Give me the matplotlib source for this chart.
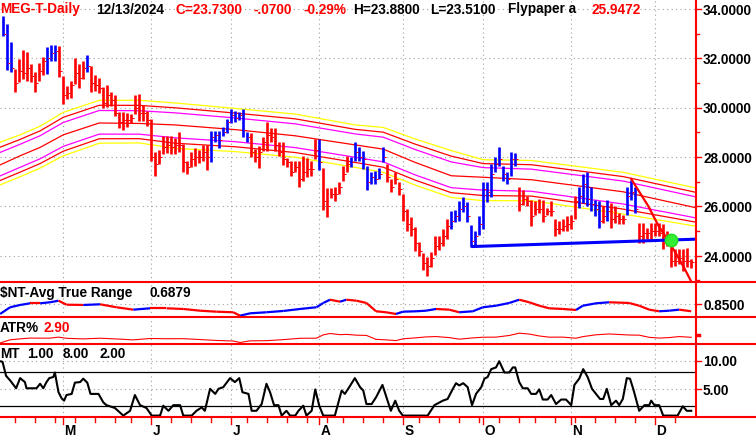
import numpy as np
import pandas as pd
import matplotlib
matplotlib.use("Agg")
import matplotlib.pyplot as plt
from matplotlib.collections import LineCollection
from matplotlib.lines import Line2D

plt.rcParams['font.family'] = ['Liberation Sans', 'DejaVu Sans']

# ---- data ----
tsx_holidays = ['2024-05-20', '2024-07-01', '2024-08-05', '2024-09-02', '2024-10-14']
dates = pd.bdate_range('2024-04-10', '2024-12-13', freq='C', holidays=tsx_holidays)

highs = [33.73, 33.39, 32.65, 31.57, 31.97, 32.34, 32.24, 31.77, 31.43, 31.80,
         32.04, 32.45, 32.54, 32.54, 32.49, 31.30, 30.89, 31.09, 32.00, 31.77,
         31.90, 32.14, 31.70, 31.32, 31.19, 30.82, 30.92, 30.65, 30.51, 29.81,
         29.81, 29.78, 29.74, 30.51, 30.55, 30.11, 29.88, 29.54, 28.22, 28.30,
         28.86, 28.86, 28.84, 28.76, 29.03, 28.53, 27.85, 28.19, 28.35, 28.28,
         28.50, 28.50, 29.07, 29.07, 29.07, 29.20, 29.54, 29.95, 29.88, 29.84,
         29.95, 29.00, 28.97, 28.32, 28.46, 28.80, 29.43, 29.16, 29.16, 28.62,
         28.62, 27.95, 27.85, 27.85, 27.85, 28.05, 27.95, 27.85, 28.73, 28.73,
         27.54, 26.73, 26.73, 26.77, 27.00, 27.65, 28.05, 27.99, 28.59, 28.39,
         28.26, 27.65, 27.38, 27.45, 27.54, 28.39, 27.72, 27.11, 27.38, 27.00,
         26.50, 25.89, 25.55, 25.15, 24.57, 24.11, 23.93, 24.14, 24.78, 24.78,
         25.08, 25.49, 25.82, 25.86, 26.23, 26.36, 26.19, 25.26, 24.99, 25.62,
         27.00, 27.00, 27.72, 27.99, 28.39, 27.65, 27.38, 28.19, 28.16, 26.80,
         26.67, 26.40, 26.27, 26.20, 26.29, 26.27, 25.93, 26.20, 25.47, 25.40,
         25.47, 25.60, 25.67, 26.40, 26.80, 27.33, 27.40, 26.80, 26.27, 26.20,
         26.00, 26.27, 26.13, 26.00, 25.73, 25.67, 26.80, 27.07, 26.80, 25.33,
         25.33, 25.13, 25.33, 25.33, 25.33, 25.27, 25.00, 24.53, 24.27, 24.27,
         24.27, 24.33, 23.88]
lows = [32.92, 31.54, 31.43, 30.65, 31.03, 31.16, 31.09, 31.05, 30.65, 31.09,
        31.32, 31.36, 31.91, 31.91, 31.23, 30.15, 30.35, 30.38, 30.96, 30.78,
        31.16, 31.43, 30.65, 30.69, 30.59, 29.97, 30.01, 30.08, 29.65, 29.16,
        29.11, 29.20, 29.38, 29.74, 29.47, 29.47, 29.27, 27.85, 27.24, 27.72,
        28.12, 28.18, 28.12, 28.14, 28.19, 27.38, 27.31, 27.58, 27.62, 27.76,
        27.82, 27.49, 27.81, 28.62, 28.35, 28.84, 28.96, 29.38, 29.41, 29.51,
        28.82, 28.62, 27.99, 27.78, 27.54, 28.26, 28.26, 28.62, 28.26, 28.05,
        27.69, 27.58, 27.22, 27.38, 26.77, 27.04, 27.18, 27.24, 27.92, 27.49,
        25.86, 25.55, 26.32, 26.23, 26.50, 27.04, 27.38, 27.58, 27.85, 27.85,
        27.51, 26.68, 26.91, 26.91, 27.11, 27.78, 26.97, 26.57, 26.91, 26.46,
        25.42, 25.01, 24.78, 24.20, 23.97, 23.43, 23.19, 23.53, 24.03, 24.24,
        24.41, 24.68, 25.08, 25.38, 25.42, 25.76, 25.35, 24.34, 24.43, 24.84,
        25.08, 26.16, 26.36, 27.38, 27.65, 27.04, 26.91, 27.24, 27.65, 25.80,
        26.07, 26.00, 25.20, 25.67, 25.73, 25.36, 25.67, 25.60, 24.80, 24.87,
        25.00, 25.00, 25.07, 25.47, 25.93, 26.13, 26.00, 25.80, 25.60, 25.13,
        25.33, 25.40, 25.13, 25.33, 25.27, 25.27, 25.67, 26.27, 25.73, 24.53,
        24.53, 24.67, 24.67, 24.80, 24.80, 24.27, 24.40, 23.53, 23.60, 23.67,
        23.40, 23.53, 23.51]
closes = [33.0, 31.8, 31.6, 31.0, 31.5, 31.4, 31.6, 31.3, 31.0, 31.5,
          31.9, 32.0, 32.2, 32.3, 31.5, 30.5, 30.6, 30.9, 31.4, 31.2,
          31.6, 31.7, 31.0, 30.9, 30.8, 30.2, 30.5, 30.3, 29.8, 29.4,
          29.5, 29.5, 29.6, 30.0, 29.8, 29.8, 29.5, 28.0, 27.7, 28.0,
          28.4, 28.5, 28.4, 28.5, 28.5, 27.8, 27.6, 27.9, 28.0, 28.0,
          28.2, 28.0, 28.8, 28.9, 28.7, 29.0, 29.4, 29.7, 29.6, 29.7,
          29.1, 28.8, 28.2, 28.0, 28.2, 28.6, 28.9, 28.8, 28.5, 28.2,
          27.9, 27.8, 27.4, 27.6, 27.1, 27.4, 27.5, 27.5, 28.3, 27.8,
          26.2, 26.0, 26.5, 26.5, 26.8, 27.3, 27.7, 27.8, 28.2, 28.0,
          27.9, 27.0, 27.2, 27.1, 27.3, 28.0, 27.2, 26.8, 27.1, 26.7,
          25.8, 25.3, 25.1, 24.5, 24.2, 23.7, 23.6, 23.9, 24.4, 24.5,
          24.8, 25.2, 25.4, 25.6, 25.9, 26.0, 25.6, 24.6, 24.8, 25.3,
          26.7, 26.6, 27.3, 27.7, 27.9, 27.3, 27.1, 27.9, 27.9, 26.1,
          26.3, 26.2, 25.6, 25.9, 25.9, 25.6, 25.8, 25.8, 25.1, 25.1,
          25.2, 25.3, 25.4, 26.2, 26.4, 26.9, 26.3, 26.1, 25.9, 25.4,
          25.6, 25.8, 25.5, 25.6, 25.5, 25.5, 26.4, 26.6, 25.9, 24.8,
          24.9, 24.9, 25.0, 25.0, 24.9, 24.5, 24.6, 23.8, 23.8, 23.9,
          23.8, 23.8, 23.73]
# b = blue (up state), r = red (down state)
trend = ("bbb" + "r" * 8 + "bbb" + "r" * 7 + "b" + "r" * 30 + "b" * 10 + "r" * 17 + "b"
         + "r" * 7 + "b" * 9 + "r" * 16 + "b" * 17 + "r" * 15 + "b" * 6 + "r" + "b"
         + "r" * 4 + "b" * 3 + "r" * 14)

# flypaper bands (centre, outer upper, outer lower)
band_idx = [-0.8, 4.2, 9.2, 15, 24, 34, 43, 58, 73, 88, 95, 103, 112, 120, 132, 155, 173]
band_mid = [27.68, 28.05, 28.39, 28.90, 29.38, 29.36, 29.30, 29.11, 28.86, 28.49, 28.32,
            27.78, 27.24, 27.18, 27.08, 26.59, 25.95]
band_top = [28.60, 28.90, 29.25, 29.81, 30.30, 30.30, 30.19, 29.97, 29.74, 29.30, 29.20,
            28.73, 28.26, 27.89, 27.86, 27.38, 26.75]
band_bot = [26.87, 27.20, 27.55, 28.05, 28.56, 28.57, 28.35, 28.22, 27.99, 27.58, 27.38,
            26.86, 26.36, 26.23, 26.23, 25.69, 25.20]

support_idx = [117, 173.2]
support_val = [24.37, 24.67]
tline_idx = [157, 161.2, 163.8, 166.3, 168.75, 170.4, 172.1, 173.2]
tline_val = [27.11, 26.03, 25.22, 24.60, 23.93, 23.46, 22.92, 22.55]
signal_idx, signal_val = 167, 24.65

atr_idx = [-0.8, 1.7, 4.2, 6.7, 9.2, 11.7, 13.8, 15.8, 20.0, 24.2, 28.3, 32.5, 36.7, 40.8,
           45.0, 49.2, 53.3, 57.5, 59.2, 61.7, 65.8, 70.0, 74.2, 78.3, 80.0, 81.7, 84.2,
           85.8, 88.3, 90.8, 93.2, 95.7, 98.2, 99.9, 103.2, 105.7, 108.2, 111.5, 114.0,
           117.4, 119.9, 123.2, 126.5, 129.0, 131.5, 134.0, 136.5, 139.9, 143.2, 144.9,
           148.2, 151.5, 156.5, 159.0, 161.5, 164.0, 166.5, 169.0, 172.0]
atr_val = [0.628, 0.777, 0.828, 0.865, 0.865, 0.888, 0.923, 0.834, 0.828, 0.843, 0.777,
           0.724, 0.754, 0.754, 0.739, 0.701, 0.679, 0.666, 0.590, 0.643, 0.666, 0.695,
           0.739, 0.777, 0.872, 0.945, 0.901, 0.945, 0.923, 0.872, 0.688, 0.666, 0.628,
           0.679, 0.688, 0.701, 0.739, 0.724, 0.666, 0.688, 0.777, 0.812, 0.872, 0.945,
           0.888, 0.812, 0.754, 0.739, 0.717, 0.812, 0.865, 0.888, 0.872, 0.812, 0.724,
           0.688, 0.701, 0.724, 0.688]

mt_idx = [-0.8, -0.2, 0.7, 1.7, 3.2, 4.2, 5.4, 5.8, 8.3, 9.2, 10.0, 10.8, 11.5, 12.5, 12.9,
          13.8, 14.6, 15.2, 15.8, 17.1, 17.9, 19.2, 20.0, 21.0, 21.8, 23.8, 25.0, 25.8,
          27.9, 30.0, 31.7, 32.9, 34.2, 35.8, 37.1, 39.2, 40.0, 41.3, 42.5, 44.2, 45.0,
          47.1, 48.3, 49.6, 50.4, 51.7, 53.0, 53.8, 55.0, 56.7, 57.9, 59.0, 59.8, 61.3,
          62.1, 63.3, 64.6, 65.8, 66.7, 67.7, 68.8, 69.6, 70.8, 71.7, 73.0, 73.8, 75.0,
          75.8, 77.1, 78.0, 79.0, 80.0, 82.9, 84.6, 85.4, 86.5, 87.9, 89.2, 90.0, 90.8,
          92.1, 93.2, 94.8, 96.9, 98.0, 99.0, 99.9, 106.1, 107.8, 109.9, 111.1, 112.4,
          113.2, 114.0, 115.0, 116.1, 117.2, 118.2, 119.5, 120.3, 121.1, 122.0, 123.2,
          124.0, 125.3, 126.5, 127.4, 128.0, 129.0, 129.9, 131.1, 132.0, 133.2, 134.0,
          134.9, 136.1, 137.0, 138.2, 139.5, 140.7, 142.0, 142.8, 144.0, 145.0, 146.1,
          147.2, 148.2, 149.2, 150.0, 150.9, 152.0, 153.2, 154.0, 154.9, 155.9, 156.7,
          157.5, 159.0, 160.3, 161.5, 162.0, 162.8, 164.0, 165.0, 168.6, 169.9, 170.9,
          172.0]
mt_val = [9.9, 9.8, 7.3, 6.5, 5.1, 6.9, 6.2, 5.1, 5.1, 5.9, 5.1, 6.2, 6.9, 7.1, 7.9,
          4.4, 3.3, 2.9, 3.9, 4.1, 6.1, 6.2, 6.8, 6.1, 4.1, 4.1, 2.6, 2.1,
          1.6, 0.25, 1.1, 3.9, 2.1, 1.6, 0.25, 0.25, 2.0, 1.1, 2.1, 2.1, 0.25,
          0.25, 1.1, 1.7, 1.1, 5.0, 4.1, 5.0, 5.3, 6.9, 6.2, 6.9, 4.4, 4.1,
          1.1, 1.1, 2.3, 5.9, 4.4, 2.1, 2.1, 0.25, 1.1, 0.25, 0.25, 1.1, 2.0,
          0.25, 1.1, 4.9, 2.0, 0.25, 0.25, 4.7, 4.1, 5.3, 6.9, 5.3, 4.7, 2.3,
          2.3, 3.5, 5.7, 1.1, 2.9, 1.1, 0.25, 0.25, 2.1, 2.9, 3.2, 5.0,
          6.0, 5.6, 6.0, 5.3, 2.1, 4.1, 5.3, 6.8, 7.1, 8.5, 8.8,
          9.9, 7.9, 7.9, 8.8, 8.8, 6.2, 5.1, 5.1, 4.1, 4.1, 4.9,
          3.1, 3.1, 3.9, 2.3, 3.1, 3.1, 2.1, 5.7, 6.8, 8.5, 7.1,
          5.0, 4.1, 3.2, 3.2, 5.0, 2.1, 2.9, 2.1, 3.2, 6.9, 6.8,
          5.0, 1.1, 2.1, 2.1, 2.9, 2.1, 2.1, 0.25, 0.25, 1.9, 1.1,
          1.1]

# ---- layout in pixels ----
W, H = 756, 439
PLOT_W = 696
X0, X1 = -0.825, 173.2
RED, BLUE = '#ff0000', '#0000ff'
GRID = dict(color='#a0a0a0', lw=0.8, ls=(0, (1, 3)))
FONT = dict(fontsize=9.8, fontweight='bold')

fig = plt.figure(figsize=(W / 100, H / 100), dpi=100)
fig.patch.set_facecolor('white')


def fx(px):
    return px / W


def fy(py):
    return 1 - py / H


def xpix(i):
    return (i - X0) / (X1 - X0) * PLOT_W


def panel(y0, y1, ylim):
    ax = fig.add_axes([0, fy(y1), fx(PLOT_W), (y1 - y0) / H])
    ax.set_xlim(X0, X1)
    ax.set_ylim(*ylim)
    ax.axis('off')
    return ax


def txt(px, py, s, color='black', ha='left'):
    fig.text(fx(px), fy(py), s, color=color, ha=ha, va='baseline', **FONT)


def pline(xs, ys, **kw):
    fig.add_artist(Line2D([fx(x) for x in xs], [fy(y) for y in ys], **kw))


idx = np.arange(len(dates))
months = dates.to_period('M')
month_starts = [i for i in idx[1:] if months[i] != months[i - 1]]
week_starts = [i for i in idx[1:] if dates[i].weekday() < dates[i - 1].weekday()]

ax_p = panel(0, 283, (22.934, 34.405))
ax_a = panel(283, 318, (0.561, 1.338))
ax_r = panel(318, 345, (1.725, 6.46))
ax_m = panel(345, 418, (0.0, 12.96))

for ax in (ax_p, ax_a, ax_r, ax_m):
    for m in month_starts:
        ax.axvline(m, **GRID)
for v in range(24, 35, 2):
    ax_p.axhline(v, **GRID)
ax_a.axhline(0.85, **GRID)
for v in (5, 10):
    ax_m.axhline(v, **GRID)

# flypaper bands
mid = np.array(band_mid)
up = np.array(band_top) - mid
dn = mid - np.array(band_bot)
band_lines = [(mid + up, '#ffff00'), (mid + 0.78 * up, RED), (mid + 0.55 * up, '#ff00ff'),
              (mid, RED), (mid - 0.55 * dn, '#ff00ff'), (mid - 0.78 * dn, RED),
              (mid - dn, '#ffff00')]
for vals, c in band_lines:
    ax_p.plot(band_idx, vals, color=c, lw=0.9)

# price bars, close tick always red
bar_colors = [BLUE if t == 'b' else RED for t in trend]
ax_p.vlines(idx, lows, highs, colors=bar_colors, lw=1.9, snap=True)
ax_p.hlines(closes, idx + 0.3, idx + 0.75, colors=RED, lw=0.72, snap=True)

ax_p.plot(support_idx, support_val, color=BLUE, lw=2.2, solid_capstyle='butt')
ax_p.plot(tline_idx, tline_val, color=RED, lw=1.6)
ax_p.plot(signal_idx, signal_val, 'o', ms=9, mfc='#33ee33', mec='#22dd22')

# ATR with up/down colouring
ax_pts = np.column_stack([atr_idx, atr_val])
segs = np.stack([ax_pts[:-1], ax_pts[1:]], axis=1)
seg_colors = [BLUE if b > a else RED for a, b in zip(atr_val[:-1], atr_val[1:])]
ax_a.add_collection(LineCollection(segs, colors=seg_colors, lw=1.6))

# ATR% = ATR / close
close_at = np.array(closes)[np.clip(np.round(atr_idx).astype(int), 0, len(closes) - 1)]
atr_pct = np.array(atr_val) / close_at * 100
ax_r.plot(atr_idx, atr_pct, color=RED, lw=0.8)

# MT
ax_m.axhline(8, color='black', lw=0.9)
ax_m.axhline(2, color='black', lw=0.9)
ax_m.plot(mt_idx, mt_val, color='black', lw=1.5)

# frame lines
for y in (283, 318, 345, 418):
    pline([0, W], [y, y], color=RED, lw=1.5)
pline([PLOT_W, PLOT_W], [0, 418], color=RED, lw=1.5)

# right axis ticks and labels
for ax, major, minor, fmt in ((ax_p, range(24, 35, 2), range(23, 34, 2), '{:.4f}'),
                              (ax_a, [0.85], [], '{:.4f}'),
                              (ax_m, [5, 10], [], '{:.2f}')):
    for v in major:
        py = H - ax.transData.transform((0, v))[1]
        pline([PLOT_W, PLOT_W + 5], [py, py], color=RED, lw=1.0)
        txt(PLOT_W + 7, py + 4.8, fmt.format(v))
    for v in minor:
        py = H - ax.transData.transform((0, v))[1]
        pline([PLOT_W, PLOT_W + 3], [py, py], color=RED, lw=1.0)
pline([PLOT_W + 1, PLOT_W + 3], [335.5, 335.5], color=RED, lw=2.5)

# bottom ticks and month letters
for w in week_starts:
    if w not in month_starts:
        pline([xpix(w)] * 2, [418, 423], color=RED, lw=1.0)
for m in month_starts:
    pline([xpix(m)] * 2, [418, 425], color=RED, lw=1.0)
    txt(xpix(m) + 1, 435, dates[m].strftime('%B')[0])

# headers
for px, s, c in ((0, 'MEG-T-Daily', RED), (96, '12/13/2024', 'black'),
                 (176, 'C=23.7300', RED), (254, '-.0700', RED), (303, '-0.29%', RED),
                 (353, 'H=23.8800', 'black'), (430, 'L=23.5100', 'black'),
                 (508, 'Flypaper a', 'black'), (592, '25.9472', RED)):
    txt(px, 13.5, s, c)
txt(0, 296.7, '$NT-Avg True Range')
txt(150, 296.7, '0.6879')
txt(0, 331.7, 'ATR%')
txt(44, 331.7, '2.90', RED)
for px, s in ((0, 'MT'), (27, '1.00'), (63, '8.00'), (99, '2.00')):
    txt(px, 358.3, s)

fig.savefig('out.png', dpi=100, facecolor='white')
